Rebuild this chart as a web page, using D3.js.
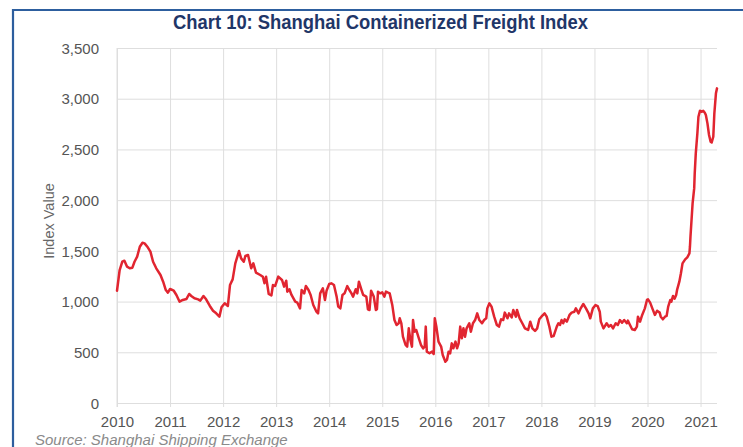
<!DOCTYPE html>
<html>
<head>
<meta charset="utf-8">
<script src="https://cdn.jsdelivr.net/npm/d3@7/dist/d3.min.js"></script>
<style>
  html, body { margin: 0; padding: 0; background: #ffffff; }
  svg { display: block; }
  text { font-family: "Liberation Sans", Arial, Helvetica, sans-serif; }
</style>
</head>
<body>
<div id="chart"></div>
<script>
// ---- Data (decimal year, SCFI index value) ----
const years = [
  2010.00,2010.05,2010.10,2010.14,2010.19,2010.24,2010.29,2010.33,2010.38,2010.43,2010.48,2010.52,2010.58,2010.63,2010.68,2010.74,2010.82,2010.87,2010.92,2010.96,
  2011.00,2011.07,2011.12,2011.18,2011.24,2011.31,2011.36,2011.40,2011.46,2011.53,2011.57,2011.63,2011.68,2011.75,2011.81,2011.87,2011.93,2011.97,
  2012.03,2012.09,2012.13,2012.18,2012.23,2012.30,2012.34,2012.39,2012.42,2012.47,2012.53,2012.57,2012.62,2012.70,2012.75,2012.78,2012.81,2012.86,2012.91,2012.94,2012.98,
  2013.04,2013.11,2013.15,2013.19,2013.21,2013.25,2013.29,2013.36,2013.40,2013.45,2013.48,2013.53,2013.56,2013.61,2013.65,2013.70,2013.76,2013.79,2013.83,2013.88,2013.92,2013.95,
  2014.00,2014.04,2014.09,2014.14,2014.17,2014.21,2014.25,2014.29,2014.34,2014.38,2014.42,2014.45,2014.50,2014.53,2014.56,2014.61,2014.64,2014.70,2014.73,2014.76,2014.79,2014.84,2014.88,2014.90,2014.92,2014.96,
  2015.00,2015.04,2015.07,2015.11,2015.14,2015.19,2015.23,2015.27,2015.31,2015.33,2015.36,2015.39,2015.44,2015.47,2015.50,2015.53,2015.56,2015.58,2015.61,2015.64,2015.69,2015.73,2015.77,2015.80,2015.82,2015.84,2015.89,2015.94,2015.97,2015.99,
  2016.02,2016.06,2016.11,2016.14,2016.19,2016.22,2016.25,2016.28,2016.31,2016.34,2016.38,2016.41,2016.44,2016.47,2016.50,2016.53,2016.56,2016.59,2016.64,2016.67,2016.71,2016.75,2016.79,2016.83,2016.88,2016.92,2016.96,2016.98,
  2017.02,2017.06,2017.11,2017.16,2017.20,2017.24,2017.28,2017.31,2017.36,2017.39,2017.44,2017.47,2017.52,2017.54,2017.59,2017.64,2017.69,2017.75,2017.79,2017.83,2017.88,2017.92,2017.96,
  2018.00,2018.06,2018.10,2018.15,2018.19,2018.23,2018.29,2018.32,2018.35,2018.38,2018.41,2018.44,2018.48,2018.53,2018.57,2018.62,2018.65,2018.70,2018.74,2018.79,2018.84,2018.89,2018.92,2018.97,
  2019.02,2019.06,2019.10,2019.12,2019.17,2019.23,2019.27,2019.31,2019.35,2019.40,2019.44,2019.48,2019.52,2019.56,2019.61,2019.63,2019.67,2019.71,2019.76,2019.80,2019.82,2019.86,2019.90,2019.95,2019.99,
  2020.01,2020.05,2020.10,2020.14,2020.18,2020.23,2020.25,2020.29,2020.33,2020.36,2020.39,2020.43,2020.45,2020.48,2020.51,2020.54,2020.56,2020.60,2020.63,2020.66,2020.71,2020.75,2020.79,2020.80,2020.81,2020.83,2020.85,2020.88,2020.89,2020.91,2020.94,2020.96,2020.99,
  2021.02,2021.05,2021.08,2021.10,2021.13,2021.16,2021.19,2021.21,2021.24,2021.26,2021.29,2021.31
];
const values = [
  1107,1311,1393,1403,1344,1328,1334,1393,1443,1541,1580,1574,1535,1492,1393,1328,1262,1196,1114,1088,
  1124,1107,1065,999,1016,1026,1075,1055,1032,1022,1009,1055,1022,957,910,884,851,943,
  983,957,1163,1219,1377,1498,1426,1393,1449,1459,1328,1377,1285,1262,1245,1180,1245,1075,1060,1163,1153,
  1246,1213,1147,1206,1098,1121,1065,999,989,933,1114,1081,1153,1114,1065,966,900,884,1081,1131,1016,1107,
  1173,1180,1163,1049,950,933,1065,1081,1153,1114,1081,1049,1121,1081,1196,1114,1065,1049,924,917,1107,1049,917,924,1098,1081,
  1091,1049,1098,1088,1081,963,818,769,786,835,786,654,572,556,736,621,556,818,703,720,638,572,539,556,753,506,490,506,483,835,
  753,605,556,473,407,424,506,490,588,539,605,539,588,753,638,736,654,736,786,703,786,818,884,818,786,818,835,933,
  983,950,851,769,753,825,818,891,835,884,844,917,851,917,835,786,736,720,802,736,710,736,825,
  851,884,851,753,654,660,753,786,769,818,786,825,802,868,891,900,933,884,933,976,933,884,835,933,
  966,956,900,802,736,786,753,769,736,786,769,818,792,818,786,812,769,727,720,753,851,802,868,933,1016,
  1022,990,921,868,910,891,851,825,851,858,950,1016,999,1055,1029,1065,1121,1196,1279,1377,1416,1436,1475,1541,1640,1804,1968,2116,2264,2461,2658,2822,2882,
  2872,2882,2862,2839,2757,2642,2576,2569,2625,2855,3053,3102
];
const xTickYears = [2010,2011,2012,2013,2014,2015,2016,2017,2018,2019,2020,2021];
const yTickValues = [0,500,1000,1500,2000,2500,3000,3500];
const titleText = "Chart 10: Shanghai Containerized Freight Index";
const yAxisLabel = "Index Value";
const sourceText = "Source: Shanghai Shipping Exchange";

// ---- Layout ----
const W = 743, H = 447;
const plotL = 117, plotR = 717, plotT = 48, plotB = 403;

const svg = d3.select("#chart").append("svg")
  .attr("width", W).attr("height", H);

// frame (blue border top and left)
svg.append("path")
  .attr("d", `M13,${H + 5} L13,10 L${W + 5},10`)
  .attr("fill", "none")
  .attr("stroke", "#2d5e9e")
  .attr("stroke-width", 2.2);

const x = d3.scaleLinear().domain([2010, 2021.31]).range([plotL, plotR]);
const y = d3.scaleLinear().domain([0, 3500]).range([plotB, plotT]);

const gridColor = "#dedede";
const tickColor = "#555555";

// Y axis with horizontal gridlines
const yAxis = svg.append("g")
  .attr("transform", `translate(${plotL},0)`)
  .call(d3.axisLeft(y).tickValues(yTickValues).tickSize(-(plotR - plotL)).tickFormat(d3.format(",")));
yAxis.select(".domain").remove();
yAxis.selectAll("line").attr("stroke", gridColor).attr("stroke-width", 1);
yAxis.selectAll("text")
  .attr("x", -18).attr("dy", "0.35em")
  .attr("fill", tickColor)
  .style("font-size", "15px");

// X axis with vertical gridlines
const xAxis = svg.append("g")
  .attr("transform", `translate(0,${plotB})`)
  .call(d3.axisBottom(x).tickValues(xTickYears).tickSize(0).tickFormat(d3.format("d")));
xAxis.select(".domain").remove();
xAxis.selectAll("line")
  .attr("y1", -(plotB - plotT)).attr("y2", 4)
  .attr("stroke", gridColor).attr("stroke-width", 1);
xAxis.selectAll("text")
  .attr("y", 24).attr("dy", null)
  .attr("fill", tickColor)
  .style("font-size", "15px");

// left axis line
svg.append("line")
  .attr("x1", plotL).attr("x2", plotL)
  .attr("y1", y(3500)).attr("y2", plotB + 4)
  .attr("stroke", gridColor);

// data line
const data = years.map((d, i) => ({ t: d, v: values[i] }));
svg.append("path")
  .datum(data)
  .attr("fill", "none")
  .attr("stroke", "#e12530")
  .attr("stroke-width", 2.5)
  .attr("stroke-linejoin", "round")
  .attr("stroke-linecap", "round")
  .attr("d", d3.line().x(d => x(d.t)).y(d => y(d.v)));

// title
svg.append("text")
  .attr("x", 380.5).attr("y", 29)
  .attr("text-anchor", "middle")
  .attr("fill", "#1f3668")
  .attr("textLength", 415)
  .attr("lengthAdjust", "spacingAndGlyphs")
  .style("font-size", "19.5px")
  .style("font-weight", "bold")
  .text(titleText);

// y label
svg.append("text")
  .attr("transform", "translate(54,221) rotate(-90)")
  .attr("text-anchor", "middle")
  .attr("fill", "#666666")
  .style("font-size", "14.5px")
  .text(yAxisLabel);

// source
svg.append("text")
  .attr("x", 35).attr("y", 445)
  .attr("fill", "#8a8a8a")
  .style("font-size", "15px")
  .style("font-style", "italic")
  .text(sourceText);
</script>
</body>
</html>
